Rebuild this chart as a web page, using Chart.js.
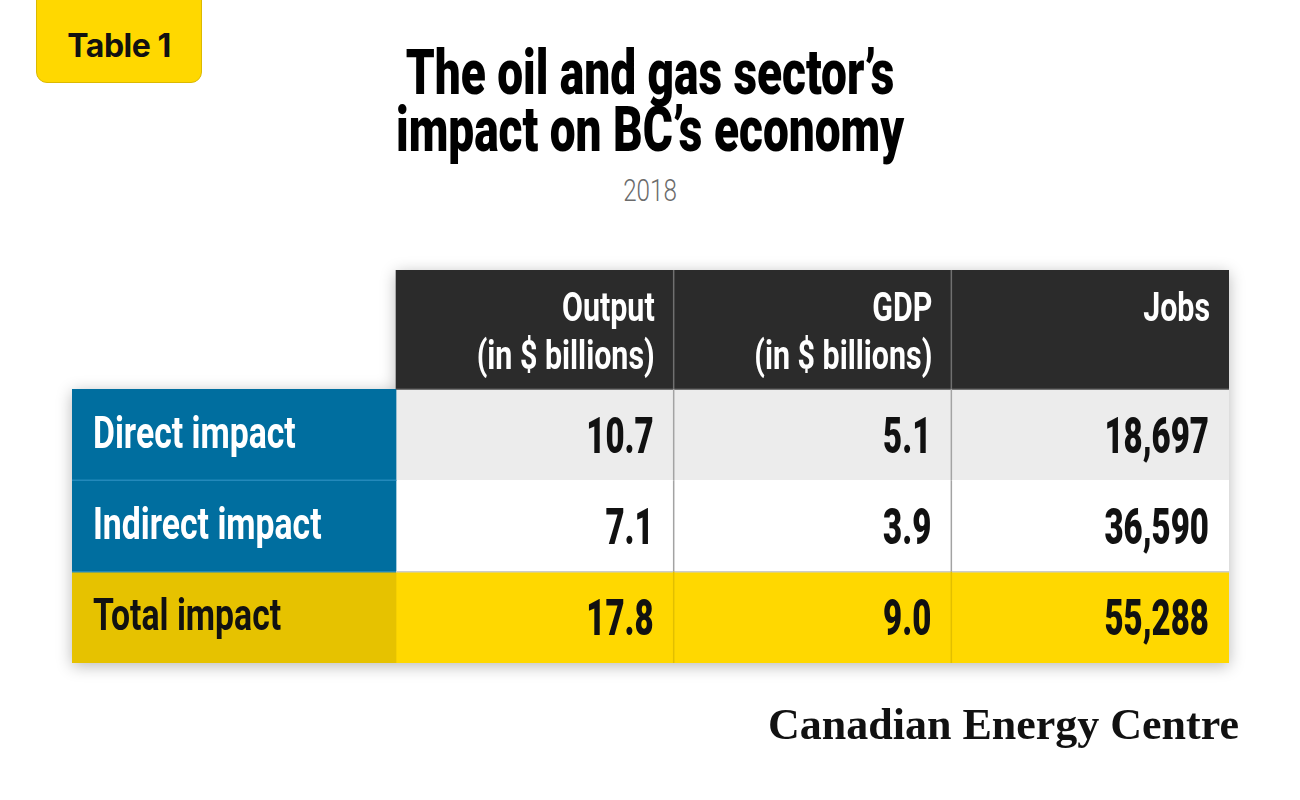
<!DOCTYPE html>
<html>
<head>
<meta charset="utf-8">
<title>The oil and gas sector's impact on BC's economy</title>
<script src="https://cdn.jsdelivr.net/npm/chart.js@4.4.0/dist/chart.umd.min.js"></script>
<style>
  html, body { margin: 0; padding: 0; background: #fff; }
  body { width: 1300px; height: 800px; position: relative; overflow: hidden; font-family: Roboto, "Noto Sans", sans-serif; }
  #table { position: absolute; left: 0; top: 0; }
  .badge {
    position: absolute; left: 36px; top: -12px; width: 164px; height: 93px;
    background: #ffd800; border: 1.5px solid #dcb900; border-radius: 0 0 11px 11px;
    font: 700 32px Inter, Roboto, sans-serif; color: #111; letter-spacing: -0.5px;
    text-align: center; line-height: 32px; box-sizing: content-box;
  }
  .badge span { position: absolute; left: 0; right: 0; top: 41px; }
  .title {
    position: absolute; left: 0; top: 44px; width: 1300px; text-align: center;
    font: 900 63px Roboto, sans-serif; line-height: 57px; color: #000;
    transform: scaleX(0.73); transform-origin: 650px 0;
  }
  .year {
    position: absolute; left: 0; top: 175px; width: 1300px; text-align: center;
    font: 300 31px Roboto, sans-serif; line-height: 31px; color: #6b6b6b;
    transform: scaleX(0.78); transform-origin: 650px 0;
  }
  .brand {
    position: absolute; right: 61px; top: 703px;
    font: 700 44px "Liberation Serif", "DejaVu Serif", serif; line-height: 44px; color: #111;
  }
</style>
</head>
<body>
<div class="badge"><span>Table 1</span></div>
<div class="title"><div>The oil and gas sector’s</div><div>impact on BC’s economy</div></div>
<div class="year">2018</div>
<canvas id="table" width="1300" height="800"></canvas>
<div class="brand">Canadian Energy Centre</div>

<script>
const rowLabels = ["Direct impact", "Indirect impact", "Total impact"];
const columnTitles = [["Output", "(in $ billions)"], ["GDP", "(in $ billions)"], ["Jobs"]];
const outputValues = [10.7, 7.1, 17.8];
const gdpValues = [5.1, 3.9, 9.0];
const jobsValues = [18697, 36590, 55288];

const columns = [outputValues, gdpValues, jobsValues];
const formats = [
    (v) => v.toFixed(1),
    (v) => v.toFixed(1),
    (v) => v.toLocaleString("en-US"),
];

// the label column is a bit wider than a value column
const LABEL_START = -1.167;

const blue = "#006e9f";
const labelFill = [blue, blue, "#e6c200"];
const labelInk = ["#ffffff", "#ffffff", "#111111"];
const rowFill = ["#ececec", "#ffffff", "#ffd800"];
const headFill = "#2b2b2b";

const datasets = [
    {
        label: "row labels",
        yAxisID: "yBody",
        data: rowLabels.map(() => [LABEL_START, 0]),
        backgroundColor: labelFill,
    },
];
columns.forEach((vals, c) => {
    datasets.push({
        label: columnTitles[c][0],
        yAxisID: "yBody",
        data: vals.map(() => [c, c + 1]),
        backgroundColor: rowFill,
    });
    datasets.push({
        label: columnTitles[c][0] + " header",
        yAxisID: "yHead",
        data: [[c, c + 1]],
        backgroundColor: headFill,
    });
});

function squeezeText(ctx, text, x, y, font, align, squeeze) {
    ctx.save();
    ctx.font = font;
    ctx.textAlign = align;
    ctx.textBaseline = "alphabetic";
    ctx.translate(x, y);
    ctx.scale(squeeze, 1);
    ctx.fillText(text, 0, 0);
    ctx.restore();
}

function line(ctx, x0, y0, x1, y1, color) {
    ctx.save();
    ctx.strokeStyle = color;
    ctx.lineWidth = 1.5;
    ctx.beginPath();
    ctx.moveTo(x0, y0);
    ctx.lineTo(x1, y1);
    ctx.stroke();
    ctx.restore();
}

const tableDecor = {
    id: "tableDecor",
    beforeDatasetsDraw(chart) {
        const { ctx } = chart;
        const { x, yBody, yHead } = chart.scales;
        const x0 = x.getPixelForValue(0);
        ctx.save();
        ctx.beginPath();
        ctx.rect(x.left, yBody.top, x.right - x.left, yBody.bottom - yBody.top);
        ctx.rect(x0, yHead.top, x.right - x0, yHead.bottom - yHead.top);
        ctx.shadowColor = "rgba(0,0,0,0.28)";
        ctx.shadowBlur = 16;
        ctx.shadowOffsetY = 3;
        ctx.fillStyle = "#ffffff";
        ctx.fill();
        ctx.restore();
    },
    afterDatasetsDraw(chart) {
        const { ctx } = chart;
        const { x, yBody, yHead } = chart.scales;
        const bars = chart.getDatasetMeta(0).data;
        const x0 = x.getPixelForValue(0);

        // row boundaries
        bars.forEach((bar, i) => {
            if (i === 0) return;
            const top = bar.y - bar.height / 2;
            line(ctx, x.left, top, x0, top, "#2389bb");
            if (i === 2) line(ctx, x0, top, x.right, top, "#cdcdcd");
        });
        line(ctx, x0, yHead.bottom, x.right, yHead.bottom, "#4d4d4d");

        // column separators
        [1, 2].forEach((c) => {
            const px = x.getPixelForValue(c);
            line(ctx, px, yHead.top, px, yHead.bottom, "#707070");
            bars.forEach((bar, i) => {
                const top = bar.y - bar.height / 2;
                line(ctx, px, top, px, top + bar.height, i < 2 ? "#a3a3a3" : "#e2bf00");
            });
        });

        // header text
        ctx.fillStyle = "#ffffff";
        columnTitles.forEach((lines, c) => {
            const right = x.getPixelForValue(c + 1) - 19;
            lines.forEach((t, k) => {
                squeezeText(ctx, t, right, yHead.top + 51 + k * 48, "700 40px Roboto", "right", 0.76);
            });
        });

        // body text
        bars.forEach((bar, i) => {
            ctx.fillStyle = labelInk[i];
            squeezeText(ctx, rowLabels[i], x.left + 21, bar.y + 13, "700 45px Roboto", "left", 0.75);
            ctx.fillStyle = "#111111";
            columns.forEach((vals, c) => {
                const right = x.getPixelForValue(c + 1) - 20;
                squeezeText(ctx, formats[c](vals[i]), right, bar.y + 18, "900 50px Roboto", "right", 0.66);
            });
        });
    },
};

const hiddenAxis = {
    display: true,
    ticks: { display: false },
    grid: { display: false, drawTicks: false },
    border: { display: false },
};

new Chart(document.getElementById("table"), {
    type: "bar",
    data: {
        labels: rowLabels,
        datasets: datasets,
    },
    options: {
        indexAxis: "y",
        responsive: false,
        animation: false,
        events: [],
        layout: {
            padding: { left: 72, right: 71, top: 270, bottom: 137 },
        },
        datasets: {
            bar: {
                grouped: false,
                categoryPercentage: 1,
                barPercentage: 1,
                borderWidth: 0,
            },
        },
        scales: {
            x: {
                type: "linear",
                display: false,
                min: LABEL_START,
                max: columns.length,
            },
            yBody: {
                ...hiddenAxis,
                type: "category",
                position: "left",
                stack: "table",
                stackWeight: 274,
                offset: true,
            },
            yHead: {
                ...hiddenAxis,
                type: "category",
                labels: [""],
                position: "left",
                stack: "table",
                stackWeight: 119,
                offset: true,
            },
        },
        plugins: {
            legend: { display: false },
            tooltip: { enabled: false },
            title: { display: false },
        },
    },
    plugins: [tableDecor],
});
</script>
</body>
</html>
